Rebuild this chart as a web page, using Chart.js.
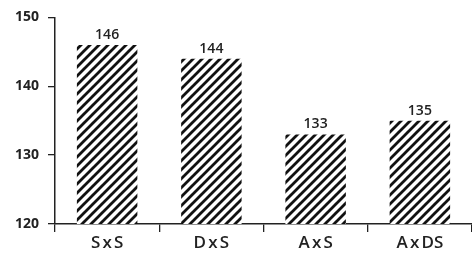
<!DOCTYPE html>
<html>
<head>
<meta charset="utf-8">
<script src="https://cdn.jsdelivr.net/npm/chart.js@4"></script>
<style>
  html, body { margin: 0; padding: 0; background: #fff; }
  #wrap { width: 472px; height: 260px; }
</style>
</head>
<body>
<div id="wrap"><canvas id="c"></canvas></div>
<script>
const categories = ['S\u202Fx\u202FS', 'D\u202Fx\u202FS', 'A\u202Fx\u202FS', 'A\u202Fx\u202FDS'];
const values = [146, 144, 133, 135];
const yTicks = [120, 130, 140, 150];

function hatchPattern() {
    const s = 9;
    const cv = document.createElement('canvas');
    cv.width = s; cv.height = s;
    const g = cv.getContext('2d');
    g.fillStyle = '#fff';
    g.fillRect(0, 0, s, s);
    g.strokeStyle = '#111';
    g.lineWidth = 2.8;
    g.beginPath();
    g.moveTo(-1, s + 1); g.lineTo(s + 1, -1);
    g.moveTo(-s / 2 - 1, s / 2 + 1); g.lineTo(s / 2 + 1, -s / 2 - 1);
    g.moveTo(s / 2 - 1, s * 1.5 + 1); g.lineTo(s * 1.5 + 1, s / 2 - 1);
    g.stroke();
    return g.createPattern(cv, 'repeat');
}

const valueLabels = {
    id: 'valueLabels',
    afterDatasetsDraw(chart) {
        const ctx = chart.ctx;
        const meta = chart.getDatasetMeta(0);
        ctx.save();
        ctx.fillStyle = '#222';
        ctx.font = '600 14px "Open Sans"';
        ctx.textAlign = 'center';
        ctx.textBaseline = 'bottom';
        meta.data.forEach((bar, i) => {
            ctx.fillText(values[i], bar.x, bar.y - 3);
        });
        ctx.restore();
    }
};

const ctx = document.getElementById('c').getContext('2d');
new Chart(ctx, {
    type: 'bar',
    data: {
        labels: categories,
        datasets: [{
            data: values,
            backgroundColor: hatchPattern(),
            borderWidth: 0,
            barPercentage: 0.58,
            categoryPercentage: 1
        }]
    },
    options: {
        responsive: true,
        maintainAspectRatio: false,
        animation: false,
        layout: { padding: { top: 16, right: 0, left: 0, bottom: 0 } },
        plugins: {
            legend: { display: false },
            tooltip: { enabled: false }
        },
        scales: {
            x: {
                grid: {
                    offset: true,
                    drawOnChartArea: false,
                    tickLength: 8,
                    color: '#222',
                    lineWidth: 1.3
                },
                border: { color: '#222', width: 1.5 },
                ticks: {
                    color: '#222',
                    font: { family: 'Open Sans', size: 17, weight: '600' },
                    padding: 1
                },
                afterFit(scale) { scale.height = 36; }
            },
            y: {
                min: yTicks[0],
                max: yTicks[yTicks.length - 1],
                afterBuildTicks(scale) {
                    scale.ticks = yTicks.map(v => ({ value: v }));
                },
                grid: {
                    drawOnChartArea: false,
                    tickLength: 7,
                    color: '#222',
                    lineWidth: 1.3
                },
                border: { color: '#222', width: 1.5 },
                ticks: {
                    color: '#222',
                    font: { family: 'Open Sans', size: 14, weight: '700' },
                    padding: 9
                },
                afterFit(scale) { scale.width = 55; }
            }
        }
    },
    plugins: [valueLabels]
});
</script>
</body>
</html>
